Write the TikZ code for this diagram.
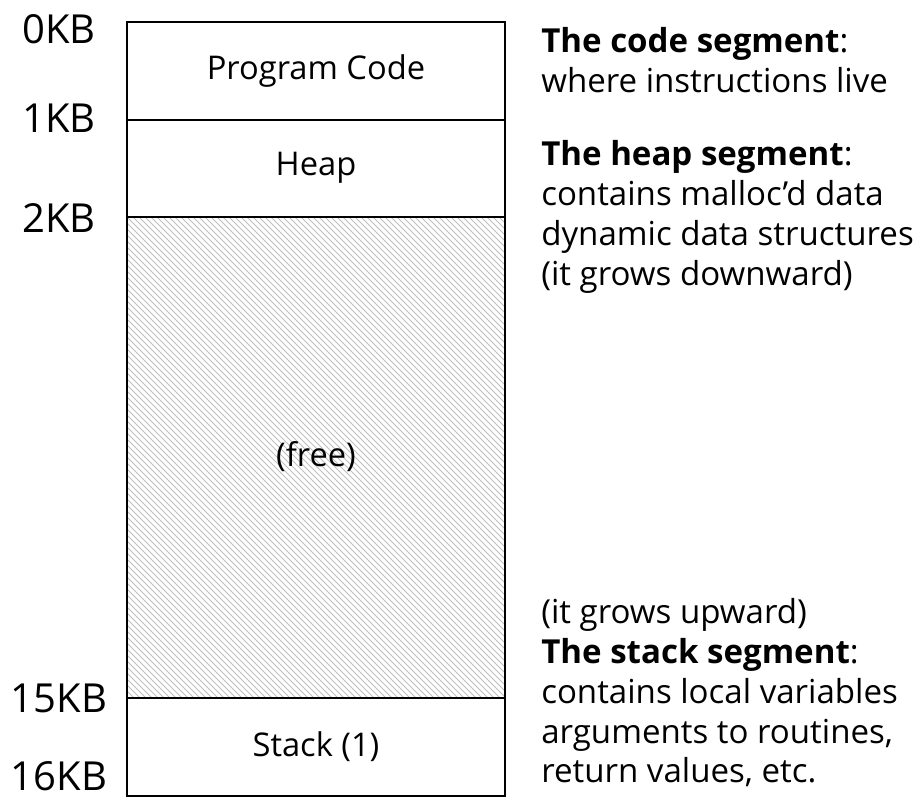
\documentclass[tikz,border=0pt]{standalone}
\usepackage{fontspec}
\setmainfont{Open Sans}

\begin{document}
\begin{tikzpicture}[x=0.75pt,y=-0.75pt,
  seglabel/.style={font=\fontsize{24.5}{30}\selectfont},
  kblabel/.style={inner sep=0pt,font=\fontsize{30}{34}\selectfont},
  note/.style={anchor=base west,inner sep=0pt,font=\fontsize{24.8}{30}\selectfont}]
\useasboundingbox (0,0) rectangle (920,800);

% free space between heap and stack
\begin{scope}
\clip (127,217) rectangle (505,698);
\foreach \i in {-486,-480,...,384}
  \draw[gray!50, line width=0.7pt] (127+\i,217) -- ++(481,481);
\end{scope}

% address space
\draw[line width=1.9pt] (127,22) rectangle (505,796);
\draw[line width=1.9pt] (127,120) -- (505,120);
\draw[line width=1.9pt] (127,217) -- (505,217);
\draw[line width=1.9pt] (127,698) -- (505,698);

\node[seglabel] (code) at (316,71) {Program Code};
\node[seglabel] (heap) at (316,168) {Heap};
\node[seglabel] (free) at (316,457) {(free)};
\node[seglabel] (stack) at (316,747) {Stack (1)};

% addresses
\node[kblabel] (kb0) at (59,29) {0KB};
\node[kblabel] (kb1) at (59,118) {1KB};
\node[kblabel] (kb2) at (59,218) {2KB};
\node[kblabel] (kb15) at (59,698) {15KB};
\node[kblabel] (kb16) at (59,776) {16KB};

% notes
\node[note] (codeA) at (541,52) {\textbf{The code segment}:};
\node[note] (codeB) at (541,92) {where instructions live};

\node[note] (heapA) at (541,165) {\textbf{The heap segment}:};
\node[note] (heapB) at (541,205) {contains malloc'd data};
\node[note] (heapC) at (541,245) {dynamic data structures};
\node[note] (heapD) at (541,285) {(it grows downward)};

\node[note] (stackA) at (541,623) {(it grows upward)};
\node[note] (stackB) at (541,663) {\textbf{The stack segment}:};
\node[note] (stackC) at (541,703) {contains local variables};
\node[note] (stackD) at (541,743) {arguments to routines,};
\node[note] (stackE) at (541,782) {return values, etc.};

\end{tikzpicture}
\end{document}
